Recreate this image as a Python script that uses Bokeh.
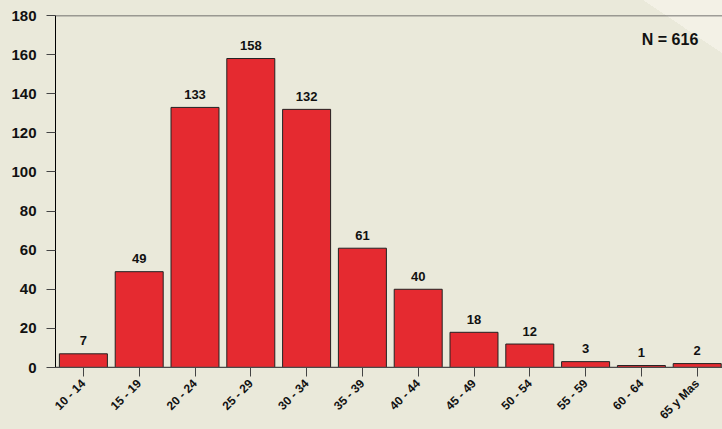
import math
from bokeh.plotting import figure
from bokeh.models import Range1d, FixedTicker, Span, Label, ColumnDataSource
from bokeh.core.properties import value
from bokeh.embed import file_html
from bokeh.resources import INLINE

categories = ["10 - 14", "15 - 19", "20 - 24", "25 - 29", "30 - 34", "35 - 39",
              "40 - 44", "45 - 49", "50 - 54", "55 - 59", "60 - 64", "65 y Mas"]
counts = [7, 49, 133, 158, 132, 61, 40, 18, 12, 3, 1, 2]
y_ticks = [0, 20, 40, 60, 80, 100, 120, 140, 160, 180]
total_label = "N = 616"

FONT = "Liberation Sans"
BG = "#EAE9DA"
LIGHT = "#F3F1E6"

xs = list(range(len(categories)))
src = ColumnDataSource(dict(x=xs, top=counts, lab=[str(c) for c in counts]))

W, H = 722, 429
left, top, bottom = 55, 15, 62
frame_w = W - left
step = 55.8

p = figure(width=W, height=H, output_backend="svg", toolbar_location=None,
           x_range=Range1d(-0.5, -0.5 + frame_w / step), y_range=Range1d(0, 180),
           min_border_left=left, min_border_right=0, min_border_top=top,
           min_border_bottom=bottom)
p.styles = {"background": f"linear-gradient(34deg, {BG} 94.2%, {LIGHT} 94.2%)"}
p.background_fill_color = None
p.border_fill_color = None
p.outline_line_color = None
p.grid.visible = False

p.vbar(x="x", top="top", width=0.86, bottom=0, source=src,
       fill_color="#E52A30", line_color="#222222", line_width=1)
p.text(x="x", y="top", text="lab", source=src, text_align="center",
       text_baseline="alphabetic", y_offset=-13, text_font=value(FONT),
       text_font_style="bold", text_font_size="13px", text_color="#111111")

p.add_layout(Span(location=180, dimension="width", line_color="#4a4a4a", line_width=1.5))
p.add_layout(Span(location=0, dimension="width", line_color="#4a4a4a", line_width=1.5))

p.yaxis.ticker = FixedTicker(ticks=y_ticks)
p.yaxis.minor_tick_line_color = None
p.yaxis.major_tick_in = 0
p.yaxis.major_tick_out = 9
p.yaxis.major_tick_line_color = "#444444"
p.yaxis.axis_line_color = "#000000"
p.yaxis.major_label_standoff = 10
p.yaxis.major_label_text_font = FONT
p.yaxis.major_label_text_font_style = "bold"
p.yaxis.major_label_text_font_size = "15px"
p.yaxis.major_label_text_color = "#111111"

p.xaxis.ticker = FixedTicker(ticks=xs)
p.xaxis.major_label_overrides = {xi: cat for xi, cat in zip(xs, categories)}
p.xaxis.minor_tick_line_color = None
p.xaxis.major_tick_in = 0
p.xaxis.major_tick_out = 9
p.xaxis.major_tick_line_color = "#444444"
p.xaxis.axis_line_color = "#4a4a4a"
p.xaxis.major_label_orientation = math.pi / 4
p.xaxis.major_label_standoff = 5
p.xaxis.major_label_text_font = FONT
p.xaxis.major_label_text_font_style = "bold"
p.xaxis.major_label_text_font_size = "12px"
p.xaxis.major_label_text_color = "#111111"

p.add_layout(Label(x=11.02, y=163.6, text=total_label, text_align="right",
                   text_font=FONT, text_font_style="bold", text_font_size="16px",
                   text_color="#111111"))

open("out.html", "w").write(file_html(p, INLINE))
